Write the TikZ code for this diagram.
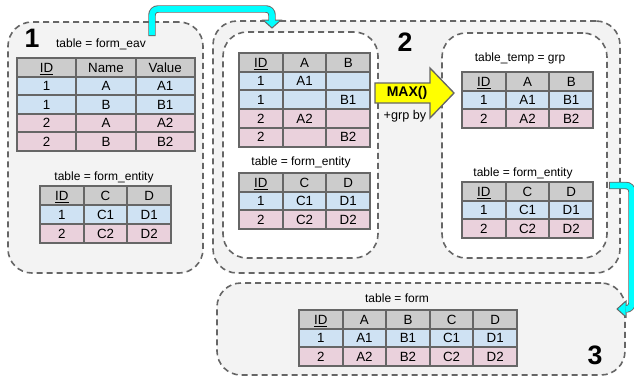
\documentclass[tikz,border=0pt]{standalone}
\usepackage{fontspec}
\setmainfont{Liberation Sans}
\usetikzlibrary{calc}

\definecolor{panelfill}{HTML}{F3F3F3}
\definecolor{edgegray}{HTML}{666666}
\definecolor{headfill}{HTML}{CCCCCC}
\definecolor{rowblue}{HTML}{CFE2F3}
\definecolor{rowpink}{HTML}{EAD1DC}
\definecolor{flowcyan}{HTML}{00FFFF}
\definecolor{opyellow}{HTML}{FFFF00}

% one drawing unit
\newcommand{\px}{0.75pt}

\tikzset{
  panel/.style={draw=edgegray, line width=1.2pt, dash pattern=on 4.5pt off 3pt,
    rounded corners=18pt, fill=panelfill, anchor=north west, inner sep=0pt, outer sep=0pt},
  subpanel/.style={panel, fill=white},
  cell/.style={draw=edgegray, line width=1.5pt, anchor=north west, inner sep=0pt,
    minimum height=18.7*\px, text height=7.3pt, text depth=0.3pt,
    font=\fontsize{10}{12}\selectfont},
  hdr/.style={fill=headfill},
  blu/.style={fill=rowblue},
  pnk/.style={fill=rowpink},
  caption/.style={font=\fontsize{9}{11}\selectfont, inner sep=0pt},
  stage/.style={font=\fontsize{20}{24}\selectfont\bfseries, inner sep=0pt},
  flowouter/.style={draw=edgegray, line width=5.6pt, rounded corners=4.5pt},
  flowinner/.style={draw=flowcyan, line width=4.2pt, rounded corners=4.5pt},
  flowhead/.style={fill=flowcyan, draw=edgegray, line width=0.75pt, line join=miter},
}

% one table row: name prefix, left x, top y, row style, cell width, cells
\newcommand{\cellrow}[6]{%
  \foreach \txt [count=\k from 0] in {#6}{%
    \node[cell,#4,minimum width=#5*\px] (#1-\k) at ({#2+\k*#5},#3) {\txt};}}

\begin{document}
\begin{tikzpicture}[x=0.75pt,y=-0.75pt]
\useasboundingbox (0,0) rectangle (634,376);

% ---------- stage panels ----------
\node[panel, minimum width=195*\px, minimum height=251*\px] (box1) at (8,22) {};
\node[panel, minimum width=407*\px, minimum height=252*\px] (box2) at (213,21) {};
\node[subpanel, minimum width=155*\px, minimum height=226*\px] (box2a) at (223,32) {};
\node[subpanel, minimum width=165*\px, minimum height=225*\px] (box2b) at (442,33) {};
\node[panel, minimum width=408*\px, minimum height=92*\px] (box3) at (217,283) {};

\node[stage] (n1) at (32,38) {1};
\node[stage] (n2) at (405,42) {2};
\node[stage] (n3) at (595,355) {3};

% ---------- stage 1 ----------
\node[caption] (cap-eav) at (101,44) {table = form\_eav};
\cellrow{eav-h}{16}{57}{hdr}{59.3}{\underline{ID},Name,Value}
\cellrow{eav-1}{16}{75.5}{blu}{59.3}{1,A,A1}
\cellrow{eav-2}{16}{94}{blu}{59.3}{1,B,B1}
\cellrow{eav-3}{16}{112.5}{pnk}{59.3}{2,A,A2}
\cellrow{eav-4}{16}{131}{pnk}{59.3}{2,B,B2}

\node[caption] (cap-ent1) at (104,177) {table = form\_entity};
\cellrow{ent1-h}{39}{185}{hdr}{43.7}{\underline{ID},C,D}
\cellrow{ent1-1}{39}{204}{blu}{43.7}{1,C1,D1}
\cellrow{ent1-2}{39}{223}{pnk}{43.7}{2,C2,D2}

% ---------- stage 2, left ----------
\cellrow{piv-h}{238}{52}{hdr}{43.7}{\underline{ID},A,B}
\cellrow{piv-1}{238}{70.7}{blu}{43.7}{1,A1,{}}
\cellrow{piv-2}{238}{89.4}{blu}{43.7}{1,{},B1}
\cellrow{piv-3}{238}{108.1}{pnk}{43.7}{2,A2,{}}
\cellrow{piv-4}{238}{126.8}{pnk}{43.7}{2,{},B2}

\node[caption] (cap-ent2) at (301,162) {table = form\_entity};
\cellrow{ent2-h}{238}{172}{hdr}{43.7}{\underline{ID},C,D}
\cellrow{ent2-1}{238}{190.7}{blu}{43.7}{1,C1,D1}
\cellrow{ent2-2}{238}{209.4}{pnk}{43.7}{2,C2,D2}

% ---------- stage 2, right ----------
\node[caption] (cap-grp) at (520,58) {table\_temp = grp};
\cellrow{grp-h}{461}{71}{hdr}{43.7}{\underline{ID},A,B}
\cellrow{grp-1}{461}{89.7}{blu}{43.7}{1,A1,B1}
\cellrow{grp-2}{461}{108.4}{pnk}{43.7}{2,A2,B2}

\node[caption] (cap-ent3) at (523,173) {table = form\_entity};
\cellrow{ent3-h}{461}{181}{hdr}{43.7}{\underline{ID},C,D}
\cellrow{ent3-1}{461}{199.7}{blu}{43.7}{1,C1,D1}
\cellrow{ent3-2}{461}{218.4}{pnk}{43.7}{2,C2,D2}

% aggregation arrow
\draw[fill=opyellow, draw=edgegray, line width=1pt, line join=miter]
  (375,83) -- (430,83) -- (430,68) -- (454,93) -- (430,118) -- (430,103) -- (375,103) -- cycle;
\node[font=\fontsize{10.5}{12}\selectfont\bfseries, inner sep=0pt] (maxop) at (407,92.5) {MAX()};
\node[font=\fontsize{9.5}{11}\selectfont, inner sep=0pt] (grpby) at (405,116) {+grp by};

% ---------- stage 3 ----------
\node[caption] (cap-form) at (397,298) {table = form};
\cellrow{form-h}{298}{309}{hdr}{43.6}{\underline{ID},A,B,C,D}
\cellrow{form-1}{298}{327.7}{blu}{43.6}{1,A1,B1,C1,D1}
\cellrow{form-2}{298}{346.4}{pnk}{43.6}{2,A2,B2,C2,D2}

% ---------- flow arrows ----------
% stage 1 -> stage 2
\coordinate (up-start) at (152,35);
\coordinate (up-bend) at (272,9);
\coordinate (up-base) at (272,20);
\coordinate (up-tip) at (272,28);
\draw[flowouter] ($(up-start)+(0,1)$) |- (up-bend) -- (up-base);
\draw[flowhead] ($(up-base)+(-9,0)$) -- (up-tip) -- ($(up-base)+(9,0)$) -- cycle;
\draw[flowinner] (up-start) |- (up-bend) -- ($(up-base)+(0,1.5)$);

% stage 2 -> stage 3
\coordinate (dn-start) at (610,185.5);
\coordinate (dn-bend) at (632,309);
\coordinate (dn-base) at (626,309);
\coordinate (dn-tip) at (617,309);
\draw[flowouter] ($(dn-start)+(-1,0)$) -| (dn-bend) -- (dn-base);
\draw[flowhead] ($(dn-base)+(0,-8)$) -- (dn-tip) -- ($(dn-base)+(0,8)$) -- cycle;
\draw[flowinner] (dn-start) -| (dn-bend) -- ($(dn-base)+(1.5,0)$);
\end{tikzpicture}
\end{document}
